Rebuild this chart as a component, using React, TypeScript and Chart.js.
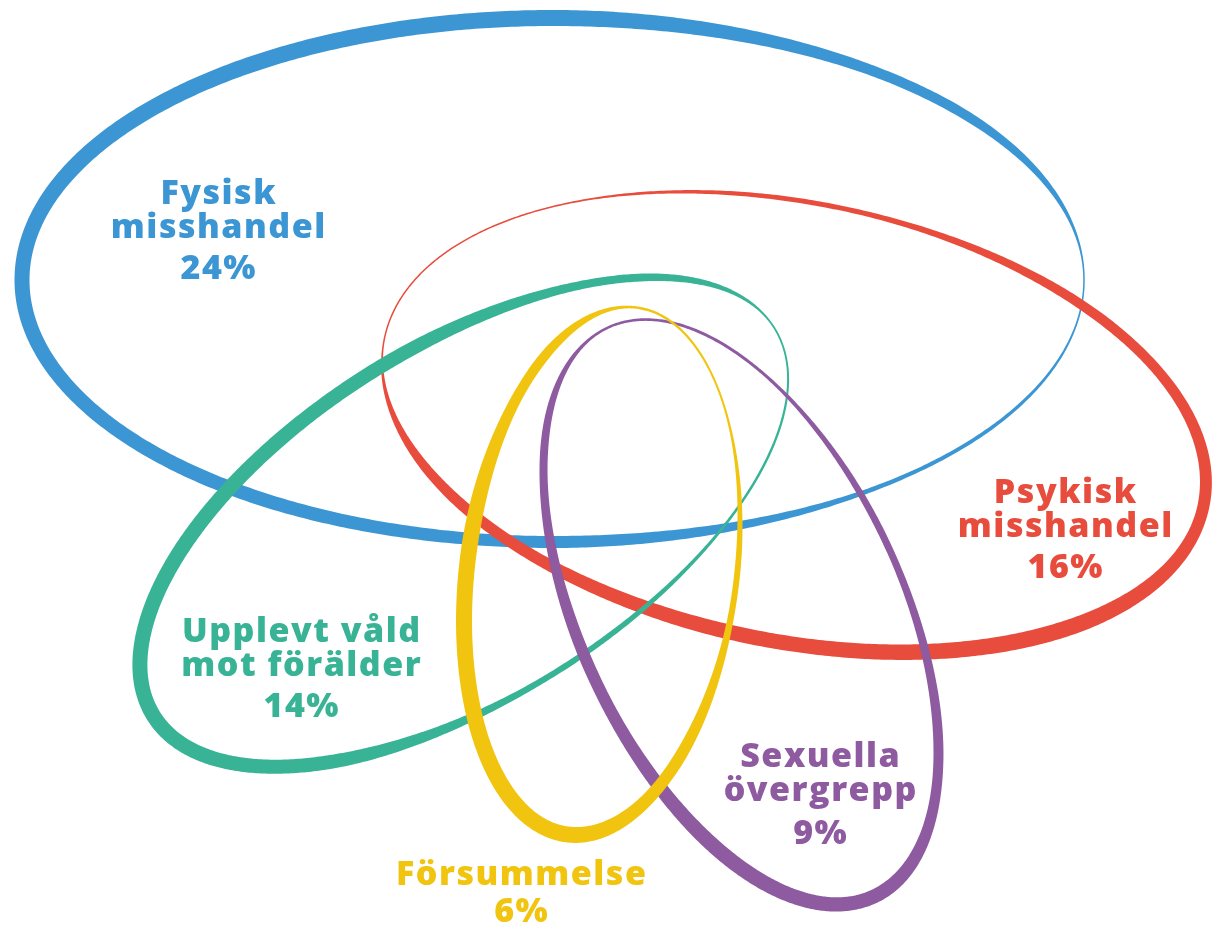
import React, { useEffect, useRef } from "react";
import { Chart, registerables } from "chart.js";

Chart.register(...registerables);

// ---- data ----
const categories = [
  "Fysisk misshandel",
  "Psykisk misshandel",
  "Upplevt våld mot förälder",
  "Sexuella övergrepp",
  "Försummelse",
];
const labelLines = [
  ["Fysisk", "misshandel"],
  ["Psykisk", "misshandel"],
  ["Upplevt våld", "mot förälder"],
  ["Sexuella", "övergrepp"],
  ["Försummelse"],
];
const percentages = [24, 16, 14, 9, 6];
const colors = ["#3b96d3", "#e84c3d", "#38b396", "#8e5aa0", "#f1c40f"];

// ellipse geometry (in chart units, x 0..1213, y 0..929 downward)
const centerX = [553, 794, 464, 741, 602];
const centerY = [280, 422, 522, 612, 571];
const radiusX = [531, 418, 366, 161, 134.6];
const radiusY = [262, 219, 176, 314, 265.7];
const rotationDeg = [0, 11.5, -32, -25.1, 7.6];
// stroke width at local angle 0,45,...,315 degrees
const strokeProfiles = [
  [1.5, 4, 12, 14, 15, 16, 16, 10],
  [12, 16, 15, 11, 1.5, 1.5, 5, 10],
  [1.8, 2.5, 6, 14, 15, 15, 14, 8],
  [7, 10, 14, 15, 12, 8, 2.5, 3],
  [6, 12, 16, 16, 16, 10, 2.5, 2],
];

// label anchors
const labelX = [218, 1065, 301, 820, 521];
const labelY = [204, 503, 642, 767, 885];
const percentY = [279, 578, 717, 844, 922];

const LINE_GAP = 34;

function widthAt(profile: number[], t: number) {
  const n = profile.length;
  const pos = (t / (2 * Math.PI)) * n;
  const i0 = Math.floor(pos) % n;
  const i1 = (i0 + 1) % n;
  const f = pos - Math.floor(pos);
  const s = f * f * (3 - 2 * f);
  return profile[i0] * (1 - s) + profile[i1] * s;
}

const vennPlugin = {
  id: "vennRings",
  afterDatasetsDraw(chart: any) {
    const { ctx } = chart;
    const xs = chart.scales.x;
    const ys = chart.scales.y;
    ctx.save();
    const N = 720;
    for (let i = 0; i < categories.length; i++) {
      const phi = (rotationDeg[i] * Math.PI) / 180;
      const c = Math.cos(phi);
      const s = Math.sin(phi);
      const pts: number[][] = [];
      for (let k = 0; k < N; k++) {
        const t = (k / N) * 2 * Math.PI;
        const lx = radiusX[i] * Math.cos(t);
        const ly = radiusY[i] * Math.sin(t);
        const dx = centerX[i] + lx * c - ly * s;
        const dy = centerY[i] + lx * s + ly * c;
        pts.push([xs.getPixelForValue(dx), ys.getPixelForValue(dy), widthAt(strokeProfiles[i], t)]);
      }
      const outer: number[][] = [];
      const inner: number[][] = [];
      for (let k = 0; k < N; k++) {
        const p = pts[k];
        const a = pts[(k - 1 + N) % N];
        const b = pts[(k + 1) % N];
        let tx = b[0] - a[0];
        let ty = b[1] - a[1];
        const len = Math.hypot(tx, ty) || 1;
        tx /= len;
        ty /= len;
        const nx = ty;
        const ny = -tx;
        const h = p[2] / 2;
        outer.push([p[0] + nx * h, p[1] + ny * h]);
        inner.push([p[0] - nx * h, p[1] - ny * h]);
      }
      ctx.beginPath();
      ctx.moveTo(outer[0][0], outer[0][1]);
      for (let k = 1; k < N; k++) ctx.lineTo(outer[k][0], outer[k][1]);
      ctx.closePath();
      ctx.moveTo(inner[N - 1][0], inner[N - 1][1]);
      for (let k = N - 2; k >= 0; k--) ctx.lineTo(inner[k][0], inner[k][1]);
      ctx.closePath();
      ctx.fillStyle = colors[i];
      ctx.fill("evenodd");
    }

    // labels
    const spacing = 1.5;
    ctx.textAlign = "center";
    ctx.textBaseline = "alphabetic";
    ctx.font = '800 34px "Open Sans", "Noto Sans", sans-serif';
    try {
      (ctx as any).letterSpacing = spacing + "px";
    } catch (e) {}
    for (let i = 0; i < categories.length; i++) {
      ctx.fillStyle = colors[i];
      const px = xs.getPixelForValue(labelX[i]) + spacing / 2;
      labelLines[i].forEach((line, j) => {
        ctx.fillText(line, px, ys.getPixelForValue(labelY[i] + j * LINE_GAP));
      });
      ctx.fillText(percentages[i] + "%", px, ys.getPixelForValue(percentY[i]));
    }
    ctx.restore();
  },
};

export default function App() {
  const ref = useRef<HTMLCanvasElement | null>(null);
  useEffect(() => {
    if (!ref.current) return;
    const chart = new Chart(ref.current, {
      type: "scatter",
      data: {
        datasets: categories.map((name, i) => ({
          label: name,
          data: [{ x: labelX[i], y: labelY[i] }],
          pointRadius: 0,
          backgroundColor: colors[i],
          borderColor: colors[i],
        })),
      },
      options: {
        animation: false,
        responsive: true,
        maintainAspectRatio: false,
        layout: { padding: 0 },
        events: [],
        scales: {
          x: { type: "linear", min: 0, max: 1213, display: false },
          y: { type: "linear", min: 0, max: 929, reverse: true, display: false },
        },
        plugins: { legend: { display: false }, tooltip: { enabled: false } },
      },
      plugins: [vennPlugin],
    });
    return () => chart.destroy();
  }, []);
  return (
    <div style={{ position: "absolute", left: 0, top: 0, width: 1213, height: 929, background: "#fff" }}>
      <canvas ref={ref} />
    </div>
  );
}
